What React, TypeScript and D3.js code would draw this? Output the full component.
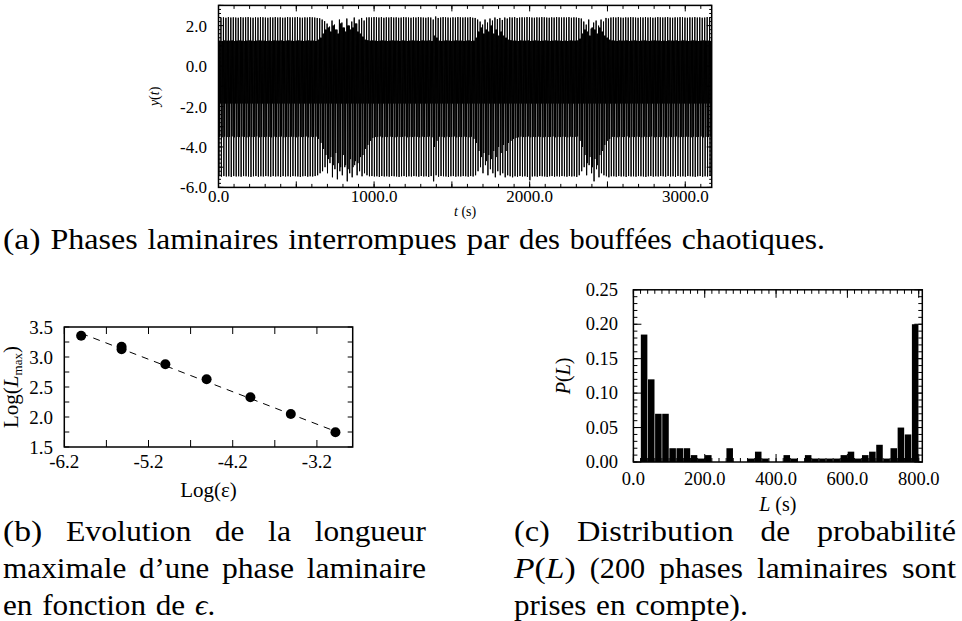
import React from "react";
import * as d3 from "d3";

// ---------- (a) time series: per-cycle extrema ----------
const T_MAX = 3170;
const upperPeaks = [
  2.42,2.40,2.41,2.39,2.42,2.40,2.41,2.40,2.39,2.42,2.40,2.41,2.42,2.40,2.39,2.41,2.40,2.42,2.41,2.40,
  2.39,2.41,2.40,2.42,2.40,2.41,2.39,2.40,2.42,2.41,2.40,2.41,2.42,2.40,2.39,2.41,2.40,2.42,2.41,2.40,
  2.38,2.36,2.30,2.22,2.10,1.95,2.25,2.05,1.80,2.30,2.15,1.90,2.35,2.00,2.20,2.40,2.10,2.30,2.38,2.25,
  2.40,2.41,2.40,2.42,2.41,2.40,2.42,2.39,2.41,2.40,2.42,2.40,2.41,2.39,2.40,2.42,2.41,2.40,2.39,2.41,
  2.40,2.42,2.41,2.40,2.39,2.41,2.40,2.30,2.45,2.38,2.40,2.42,2.41,2.40,2.39,2.41,2.40,2.42,2.41,2.40,
  2.41,2.40,2.42,2.39,2.38,2.30,2.20,2.05,2.30,2.15,2.35,2.25,2.40,2.32,2.38,2.28,2.40,2.35,2.41,2.40,
  2.42,2.38,2.40,2.41,2.40,2.42,2.41,2.40,2.39,2.41,2.40,2.42,2.41,2.40,2.39,2.41,2.40,2.42,2.41,2.40,
  2.41,2.40,2.42,2.39,2.41,2.40,2.38,2.35,2.20,2.05,2.30,1.85,2.15,2.25,2.00,2.30,2.20,2.38,2.35,2.40,
  2.41,2.40,2.42,2.40,2.39,2.41,2.40,2.42,2.41,2.40,2.39,2.41,2.40,2.42,2.40,2.41,2.39,2.40,2.42,2.41,
  2.40,2.41,2.42,2.40,2.39,2.41,2.40,2.42,2.41,2.40,2.39,2.41,2.40,2.42,2.40,2.41,2.39,2.40,2.42,2.41,
];
const innerPeaks = [
  1.25,1.24,1.26,1.25,1.25,1.26,1.24,1.25,1.26,1.25,1.24,1.25,1.26,1.25,1.24,1.25,1.26,1.25,1.25,1.24,
  1.25,1.24,1.26,1.25,1.25,1.26,1.24,1.25,1.26,1.25,1.24,1.25,1.26,1.25,1.24,1.25,1.26,1.25,1.25,1.24,
  1.30,1.40,1.60,1.80,1.90,1.70,2.00,1.80,1.60,2.10,1.90,1.70,2.00,1.80,1.90,2.10,1.70,1.60,1.45,1.30,
  1.27,1.25,1.26,1.25,1.24,1.25,1.26,1.25,1.24,1.25,1.26,1.25,1.25,1.24,1.26,1.25,1.24,1.25,1.26,1.25,
  1.25,1.24,1.26,1.25,1.25,1.26,1.24,1.50,1.40,1.25,1.24,1.25,1.26,1.25,1.24,1.25,1.26,1.25,1.25,1.24,
  1.25,1.26,1.24,1.25,1.40,1.70,1.90,1.60,1.80,1.70,2.00,1.60,1.80,1.50,1.70,1.50,1.40,1.30,1.27,1.25,
  1.25,1.24,1.26,1.25,1.25,1.26,1.24,1.25,1.26,1.25,1.24,1.25,1.26,1.25,1.24,1.25,1.26,1.25,1.25,1.24,
  1.25,1.24,1.26,1.25,1.25,1.26,1.35,1.60,1.80,1.70,1.50,1.90,1.80,1.60,1.90,1.70,1.50,1.40,1.30,1.26,
  1.25,1.24,1.26,1.25,1.25,1.26,1.24,1.25,1.26,1.25,1.24,1.25,1.26,1.25,1.24,1.25,1.26,1.25,1.25,1.24,
  1.25,1.24,1.26,1.25,1.25,1.26,1.24,1.25,1.26,1.25,1.24,1.25,1.26,1.25,1.24,1.25,1.26,1.25,1.25,1.24,
];
const midTroughs = [
  -3.50,-3.52,-3.49,-3.51,-3.50,-3.48,-3.52,-3.50,-3.51,-3.49,-3.50,-3.52,-3.49,-3.51,-3.50,-3.48,-3.52,-3.50,-3.51,-3.49,
  -3.50,-3.52,-3.49,-3.51,-3.50,-3.48,-3.52,-3.50,-3.51,-3.49,-3.50,-3.52,-3.49,-3.51,-3.50,-3.48,-3.52,-3.50,-3.51,-3.49,
  -3.60,-3.80,-4.10,-4.40,-4.60,-4.50,-4.90,-4.30,-4.80,-5.00,-4.40,-4.90,-5.10,-4.60,-5.00,-4.70,-4.80,-4.50,-4.40,-4.10,
  -3.90,-3.70,-3.55,-3.51,-3.50,-3.48,-3.52,-3.50,-3.51,-3.49,-3.50,-3.52,-3.49,-3.51,-3.50,-3.48,-3.52,-3.50,-3.51,-3.49,
  -3.50,-3.52,-3.49,-3.51,-3.50,-3.48,-3.52,-4.00,-3.70,-3.49,-3.50,-3.52,-3.49,-3.51,-3.50,-3.48,-3.52,-3.50,-3.51,-3.49,
  -3.50,-3.52,-3.49,-3.60,-3.80,-4.20,-4.50,-4.30,-4.70,-4.40,-4.60,-4.20,-4.50,-4.00,-4.30,-3.90,-4.20,-3.80,-3.70,-3.60,
  -3.55,-3.52,-3.49,-3.51,-3.50,-3.48,-3.52,-3.50,-3.51,-3.49,-3.50,-3.52,-3.49,-3.51,-3.50,-3.48,-3.52,-3.50,-3.51,-3.49,
  -3.50,-3.52,-3.49,-3.51,-3.50,-3.48,-3.70,-4.00,-4.40,-4.80,-4.50,-5.00,-4.60,-4.90,-4.40,-4.20,-3.90,-3.70,-3.60,-3.50,
  -3.50,-3.52,-3.49,-3.51,-3.50,-3.48,-3.52,-3.50,-3.51,-3.49,-3.50,-3.52,-3.49,-3.51,-3.50,-3.48,-3.52,-3.50,-3.51,-3.49,
  -3.50,-3.52,-3.49,-3.51,-3.50,-3.48,-3.52,-3.50,-3.51,-3.49,-3.50,-3.52,-3.49,-3.51,-3.50,-3.48,-3.52,-3.50,-3.51,-3.49,
];
const lowerPeaks = [
  -5.45,-5.47,-5.44,-5.46,-5.45,-5.48,-5.44,-5.46,-5.45,-5.47,-5.44,-5.45,-5.46,-5.48,-5.45,-5.44,-5.47,-5.45,-5.46,-5.44,
  -5.45,-5.47,-5.44,-5.46,-5.45,-5.48,-5.44,-5.46,-5.45,-5.47,-5.44,-5.45,-5.46,-5.48,-5.45,-5.44,-5.47,-5.45,-5.46,-5.44,
  -5.40,-5.30,-5.20,-5.00,-5.30,-4.80,-5.50,-5.10,-5.60,-5.20,-5.40,-5.00,-5.70,-5.30,-5.50,-4.90,-5.40,-5.20,-5.45,-5.30,
  -5.40,-5.45,-5.44,-5.46,-5.45,-5.48,-5.44,-5.46,-5.45,-5.47,-5.44,-5.45,-5.46,-5.48,-5.45,-5.44,-5.47,-5.45,-5.46,-5.44,
  -5.45,-5.47,-5.44,-5.46,-5.45,-5.48,-5.44,-5.70,-5.40,-5.47,-5.44,-5.45,-5.46,-5.48,-5.45,-5.44,-5.47,-5.45,-5.46,-5.44,
  -5.45,-5.47,-5.44,-5.46,-5.40,-5.20,-5.00,-5.30,-4.90,-5.40,-5.10,-5.30,-5.50,-5.20,-5.40,-5.30,-5.50,-5.40,-5.45,-5.50,
  -5.45,-5.47,-5.44,-5.46,-5.45,-5.48,-5.65,-5.46,-5.45,-5.47,-5.44,-5.45,-5.46,-5.48,-5.45,-5.44,-5.47,-5.45,-5.46,-5.44,
  -5.45,-5.47,-5.44,-5.46,-5.45,-5.48,-5.40,-5.20,-5.00,-5.40,-4.90,-5.30,-5.70,-5.10,-5.50,-5.30,-5.40,-5.45,-5.50,-5.45,
  -5.45,-5.47,-5.44,-5.46,-5.45,-5.48,-5.44,-5.46,-5.45,-5.47,-5.44,-5.45,-5.46,-5.48,-5.45,-5.44,-5.47,-5.45,-5.46,-5.44,
  -5.45,-5.47,-5.44,-5.46,-5.45,-5.48,-5.44,-5.46,-5.45,-5.47,-5.44,-5.45,-5.46,-5.48,-5.45,-5.44,-5.47,-5.45,-5.46,-5.44,
];
const shallowTrough = -1.85;
const xTicksA = [0, 1000, 2000, 3000];
const xLabelsA = ["0.0", "1000.0", "2000.0", "3000.0"];
const yTicksA = [2, 0, -2, -4, -6];
const yLabelsA = ["2.0", "0.0", "-2.0", "-4.0", "-6.0"];

// ---------- (b) Log(Lmax) vs Log(eps) ----------
const logEps = [-6.0, -5.52, -5.52, -5.0, -4.51, -3.99, -3.51, -2.98];
const logLmax = [3.355, 3.17, 3.13, 2.88, 2.63, 2.33, 2.05, 1.745];
const fitSlope = -0.541;
const fitIntercept = 0.149;
const xTicksB = [-6.2, -5.2, -4.2, -3.2];
const xLabelsB = ["-6.2", "-5.2", "-4.2", "-3.2"];
const yTicksB = [1.5, 2.0, 2.5, 3.0, 3.5];
const yLabelsB = ["1.5", "2.0", "2.5", "3.0", "3.5"];

// ---------- (c) histogram P(L) ----------
const binLefts = [0,20,40,60,80,100,120,140,160,180,200,220,240,260,280,300,320,340,360,380,
  400,420,440,460,480,500,520,540,560,580,600,620,640,660,680,700,720,740,760,780];
const binWidth = 20;
const probs = [0,0.185,0.12,0.07,0.07,0.02,0.02,0.02,0.01,0.005,0.01,0,0,0.02,0,0,0.005,0.015,0.005,0,
  0,0.01,0.005,0,0.01,0.005,0.005,0.005,0.005,0.01,0.015,0.005,0.01,0.015,0.025,0.005,0.02,0.05,0.04,0.2];
const xTicksC = [0, 200, 400, 600, 800];
const xLabelsC = ["0.0", "200.0", "400.0", "600.0", "800.0"];
const yTicksC = [0, 0.05, 0.1, 0.15, 0.2, 0.25];
const yLabelsC = ["0.00", "0.05", "0.10", "0.15", "0.20", "0.25"];

const FONT = "Liberation Serif, Times New Roman, Times, DejaVu Serif, serif";
const CAP = 29.4;

type W = [string, number, number];
const capA: W[] = [["(a)",3,37.6],["Phases",50.4,87.3],["laminaires",147.5,130.9],["interrompues",288.2,168.6],
  ["par",466.6,42.6],["des",519.0,41.0],["bouffées",569.8,102.2],["chaotiques.",681.8,143.1]];
const capB: W[][] = [
  [["(b)",3,39.2],["Evolution",65.9,125.4],["de",215.0,29.4],["la",268.1,22.9],["longueur",314.7,111.2]],
  [["maximale",3,123.3],["d’une",139.0,70.3],["phase",222.0,72.0],["laminaire",306.7,119.3]],
  [["en",3,29.4],["fonction",42.2,103.8],["de",155.8,29.4],["EPS",195.0,20.1]],
];
const capC: W[][] = [
  [["(c)",514,35.9],["Distribution",576.9,156.7],["de",760.6,29.4],["probabilité",817.0,139.0]],
  [["PL",514,61.7],["(200",589.75,55.5],["phases",659.3,83.6],["laminaires",756.95,130.9],["sont",901.9,54.1]],
  [["prises",514,72.3],["en",596.1,29.4],["compte).",635.3,112.7]],
];
const capLineY = [541, 578, 615];

function Word({ w, y }: { w: W; y: number }) {
  const [t, x, len] = w;
  let content: React.ReactNode = t;
  if (t === "EPS") content = (<><tspan fontStyle="italic">ϵ</tspan>.</>);
  if (t === "PL") content = (<><tspan fontStyle="italic">P</tspan>(<tspan fontStyle="italic">L</tspan>)</>);
  return (
    <text x={x} y={y} textLength={len} lengthAdjust="spacingAndGlyphs" fontSize={CAP}>
      {content}
    </text>
  );
}

function Frame({ l, r, t, b, sw }: { l: number; r: number; t: number; b: number; sw: number }) {
  return <rect x={l} y={t} width={r - l} height={b - t} fill="none" stroke="#000" strokeWidth={sw} />;
}

function xTickLines(vals: number[], sx: (v: number) => number, t: number, b: number, len: number, key: string) {
  return vals.map((v, i) => (
    <g key={key + i}>
      <line x1={sx(v)} x2={sx(v)} y1={b} y2={b - len} stroke="#000" strokeWidth={1} />
      <line x1={sx(v)} x2={sx(v)} y1={t} y2={t + len} stroke="#000" strokeWidth={1} />
    </g>
  ));
}
function yTickLines(vals: number[], sy: (v: number) => number, l: number, r: number, len: number, key: string) {
  return vals.map((v, i) => (
    <g key={key + i}>
      <line x1={l} x2={l + len} y1={sy(v)} y2={sy(v)} stroke="#000" strokeWidth={1} />
      <line x1={r} x2={r - len} y1={sy(v)} y2={sy(v)} stroke="#000" strokeWidth={1} />
    </g>
  ));
}

export default function App() {
  // ----- (a) -----
  const A = { l: 218.5, r: 711.7, t: 5.4, b: 187.4 };
  const xA = d3.scaleLinear().domain([0, T_MAX]).range([A.l, A.r]);
  const yA = d3.scaleLinear().domain([-6, 3]).range([A.b, A.t]);
  const n = upperPeaks.length;
  const period = T_MAX / (n - 1 / 6);
  const pts: [number, number][] = [];
  upperPeaks.forEach((u, i) => {
    const vals = [u, lowerPeaks[i], innerPeaks[i], midTroughs[i], innerPeaks[i], shallowTrough];
    vals.forEach((v, k) => pts.push([(i + k / 6) * period, v]));
  });
  const lineA = d3.line<[number, number]>().x((d) => xA(d[0])).y((d) => yA(d[1]));

  // ----- (b) -----
  const B = { l: 64.3, r: 352.7, t: 327, b: 447 };
  const xB = d3.scaleLinear().domain([-6.2, -2.775]).range([B.l, B.r]);
  const yB = d3.scaleLinear().domain([1.5, 3.5]).range([B.b, B.t]);
  const fitX = [d3.min(logEps)!, d3.max(logEps)!];

  // ----- (c) -----
  const C = { l: 633.4, r: 922.3, t: 289.8, b: 462 };
  const xC = d3.scaleLinear().domain([0, 810]).range([C.l, C.r]);
  const yC = d3.scaleLinear().domain([0, 0.25]).range([C.b, C.t]);

  return (
    <svg width={962} height={621} viewBox="0 0 962 621"
      style={{ position: "absolute", left: 0, top: 0, display: "block", background: "#fff", fontFamily: FONT }}>
      <rect x={0} y={0} width={962} height={621} fill="#fff" />
      <defs>
        <clipPath id="clipA"><rect x={A.l} y={A.t} width={A.r - A.l} height={A.b - A.t} /></clipPath>
      </defs>

      {/* ===== (a) ===== */}
      <path d={lineA(pts) || ""} fill="none" stroke="#000" strokeWidth={1} clipPath="url(#clipA)" />
      {xTickLines(d3.range(0, T_MAX, 100), xA, A.t, A.b, 3.5, "ax")}
      {xTickLines(d3.range(0, T_MAX, 500), xA, A.t, A.b, 6, "axm")}
      {yTickLines(d3.range(-6, 3.01, 0.2), yA, A.l, A.r, 2.5, "ay")}
      {yTickLines(d3.range(-6, 3.01, 1), yA, A.l, A.r, 5, "aym")}
      <Frame l={A.l} r={A.r} t={A.t} b={A.b} sw={1.5} />
      {xTicksA.map((v, i) => (
        <text key={"axl" + i} x={xA(v)} y={201.5} fontSize={17} textAnchor="middle">{xLabelsA[i]}</text>
      ))}
      {yTicksA.map((v, i) => (
        <text key={"ayl" + i} x={207} y={yA(v) + 6} fontSize={17} textAnchor="end">{yLabelsA[i]}</text>
      ))}
      <text x={(A.l + A.r) / 2} y={216} fontSize={14} textAnchor="middle">
        <tspan fontStyle="italic">t</tspan> (s)
      </text>
      <text transform={`translate(159,${(A.t + A.b) / 2}) rotate(-90)`} fontSize={14} textAnchor="middle">
        <tspan fontStyle="italic">y</tspan>(<tspan fontStyle="italic">t</tspan>)
      </text>

      {/* ===== (b) ===== */}
      {xTickLines(d3.range(-6.2, -2.7, 0.5), xB, B.t, B.b, 7, "bx")}
      {yTickLines(d3.range(1.5, 3.51, 0.25), yB, B.l, B.r, 5, "by")}
      <line x1={xB(fitX[0])} y1={yB(fitSlope * fitX[0] + fitIntercept)} x2={xB(fitX[1])} y2={yB(fitSlope * fitX[1] + fitIntercept)}
        stroke="#000" strokeWidth={1} strokeDasharray="7,6" />
      {logEps.map((v, i) => (
        <circle key={"bp" + i} cx={xB(v)} cy={yB(logLmax[i])} r={5} fill="#000" />
      ))}
      <Frame l={B.l} r={B.r} t={B.t} b={B.b} sw={1.5} />
      {xTicksB.map((v, i) => (
        <text key={"bxl" + i} x={xB(v)} y={468} fontSize={19} textAnchor="middle">{xLabelsB[i]}</text>
      ))}
      {yTicksB.map((v, i) => (
        <text key={"byl" + i} x={53} y={yB(v) + 6.5} fontSize={19} textAnchor="end">{yLabelsB[i]}</text>
      ))}
      <text x={(B.l + B.r) / 2} y={497} fontSize={21} textAnchor="middle">Log(ε)</text>
      <text transform={`translate(18,${(B.t + B.b) / 2}) rotate(-90)`} fontSize={21} textAnchor="middle">
        Log(<tspan fontStyle="italic">L</tspan><tspan fontSize={13} dy={4}>max</tspan><tspan dy={-4}>)</tspan>
      </text>

      {/* ===== (c) ===== */}
      {binLefts.map((v, i) =>
        probs[i] > 0 ? (
          <rect key={"cb" + i} x={xC(v) + 0.3} width={xC(v + binWidth) - xC(v) - 0.6}
            y={yC(probs[i])} height={yC(0) - yC(probs[i])} fill="#000" />
        ) : null
      )}
      {xTickLines(d3.range(0, 810, 20), xC, C.t, C.b, 4, "cx")}
      {xTickLines(d3.range(0, 810, 200), xC, C.t, C.b, 8, "cxm")}
      {yTickLines(d3.range(0, 0.2501, 0.01), yC, C.l, C.r, 4, "cy")}
      {yTickLines(d3.range(0, 0.2501, 0.05), yC, C.l, C.r, 8, "cym")}
      <Frame l={C.l} r={C.r} t={C.t} b={C.b} sw={1.5} />
      {xTicksC.map((v, i) => (
        <text key={"cxl" + i} x={xC(v)} y={485} fontSize={18.5} textAnchor="middle">{xLabelsC[i]}</text>
      ))}
      {yTicksC.map((v, i) => (
        <text key={"cyl" + i} x={618} y={yC(v) + 6} fontSize={18.5} textAnchor="end">{yLabelsC[i]}</text>
      ))}
      <text x={(C.l + C.r) / 2} y={511} fontSize={20} textAnchor="middle">
        <tspan fontStyle="italic">L</tspan> (s)
      </text>
      <text transform={`translate(570,${(C.t + C.b) / 2}) rotate(-90)`} fontSize={20} textAnchor="middle">
        <tspan fontStyle="italic">P</tspan>(<tspan fontStyle="italic">L</tspan>)
      </text>

      {/* ===== captions ===== */}
      {capA.map((w, i) => <Word key={"ca" + i} w={w} y={249} />)}
      {capB.map((line, li) => line.map((w, i) => <Word key={"cbw" + li + "_" + i} w={w} y={capLineY[li]} />))}
      {capC.map((line, li) => line.map((w, i) => <Word key={"ccw" + li + "_" + i} w={w} y={capLineY[li]} />))}
    </svg>
  );
}
